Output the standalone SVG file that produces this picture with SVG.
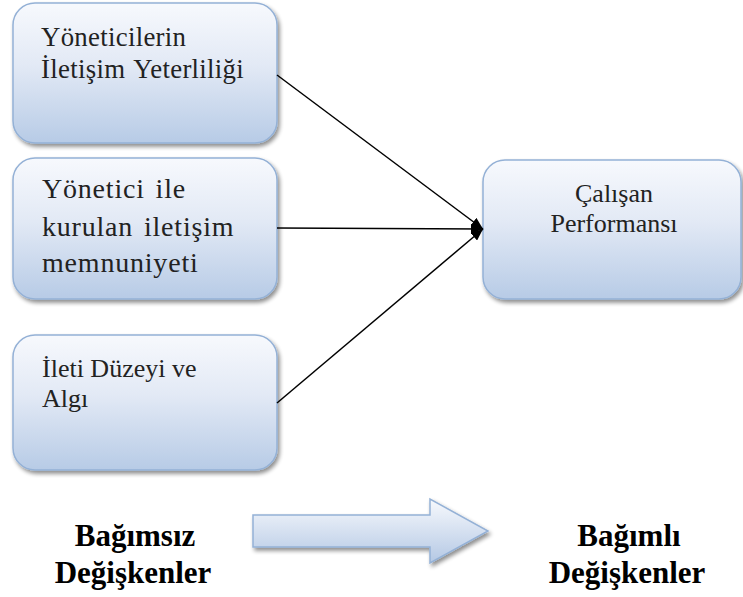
<svg xmlns="http://www.w3.org/2000/svg" width="743" height="597" viewBox="0 0 743 597">
<defs>
<linearGradient id="boxGrad" x1="0" y1="0" x2="0" y2="1">
<stop offset="0" stop-color="#f7f9fd"/>
<stop offset="0.45" stop-color="#e2e9f5"/>
<stop offset="1" stop-color="#b7cbe6"/>
</linearGradient>
<linearGradient id="arrGrad" x1="0" y1="0" x2="0" y2="1">
<stop offset="0" stop-color="#f7f9fd"/>
<stop offset="1" stop-color="#b4c8e4"/>
</linearGradient>
<filter id="shadow" x="-10%" y="-10%" width="125%" height="130%">
<feGaussianBlur in="SourceAlpha" stdDeviation="2"/>
<feOffset dx="2" dy="3" result="b"/>
<feComponentTransfer><feFuncA type="linear" slope="0.45"/></feComponentTransfer>
<feMerge><feMergeNode/><feMergeNode in="SourceGraphic"/></feMerge>
</filter>
<marker id="head" viewBox="0 0 12 10" refX="12" refY="5" markerWidth="12" markerHeight="10" markerUnits="userSpaceOnUse" orient="auto">
<path d="M0,0 L12,5 L0,10 z" fill="#000"/>
</marker>
</defs>
<style>
.box{fill:url(#boxGrad);stroke:#94b1d6;stroke-width:1.5;filter:url(#shadow)}
.t{font-family:"Liberation Serif","Times New Roman",serif;font-size:26px;fill:#222}
.t1{font-size:26.8px;letter-spacing:0.3px;word-spacing:2px}
.t2{font-size:28px;letter-spacing:0.8px;word-spacing:3px}
.b{font-family:"Liberation Serif","Times New Roman",serif;font-size:31px;font-weight:bold;fill:#000;text-anchor:middle}
.c{stroke:#000;stroke-width:1.5;fill:none;marker-end:url(#head)}
</style>
<rect width="743" height="597" fill="#fff"/>
<g id="n1">
<rect class="box" x="13" y="3" width="264" height="140" rx="22"/>
<text class="t t1" x="41" y="46">Yöneticilerin</text>
<text class="t t1" x="41" y="78">İletişim Yeterliliği</text>
</g>
<g id="n2">
<rect class="box" x="13" y="158" width="264" height="141" rx="22"/>
<text class="t t2" x="42" y="198">Yönetici ile</text>
<text class="t t2" x="42" y="236">kurulan iletişim</text>
<text class="t t2" x="42" y="272">memnuniyeti</text>
</g>
<g id="n3">
<rect class="box" x="13" y="335" width="264" height="135" rx="22"/>
<text class="t" x="42" y="377">İleti Düzeyi ve</text>
<text class="t" x="42" y="407">Algı</text>
</g>
<g id="n4">
<rect class="box" x="483" y="160" width="258" height="139" rx="22"/>
<text class="t" x="614" y="202" text-anchor="middle">Çalışan</text>
<text class="t" x="614" y="232" text-anchor="middle">Performansı</text>
</g>
<g id="connectors">
<line class="c" x1="277" y1="75" x2="483" y2="229"/>
<line class="c" x1="277" y1="228" x2="483" y2="229"/>
<line class="c" x1="277" y1="403" x2="483" y2="229"/>
</g>
<g id="bigArrow">
<path d="M253,515 L430,515 L430,499 L488,531 L430,563 L430,547 L253,547 Z" fill="url(#arrGrad)" stroke="#94b1d6" stroke-width="1.5" filter="url(#shadow)"/>
</g>
<g id="labels">
<text class="b" x="135" y="546">Bağımsız</text>
<text class="b" x="133" y="583">Değişkenler</text>
<text class="b" x="629" y="546">Bağımlı</text>
<text class="b" x="627" y="583">Değişkenler</text>
</g>
</svg>
